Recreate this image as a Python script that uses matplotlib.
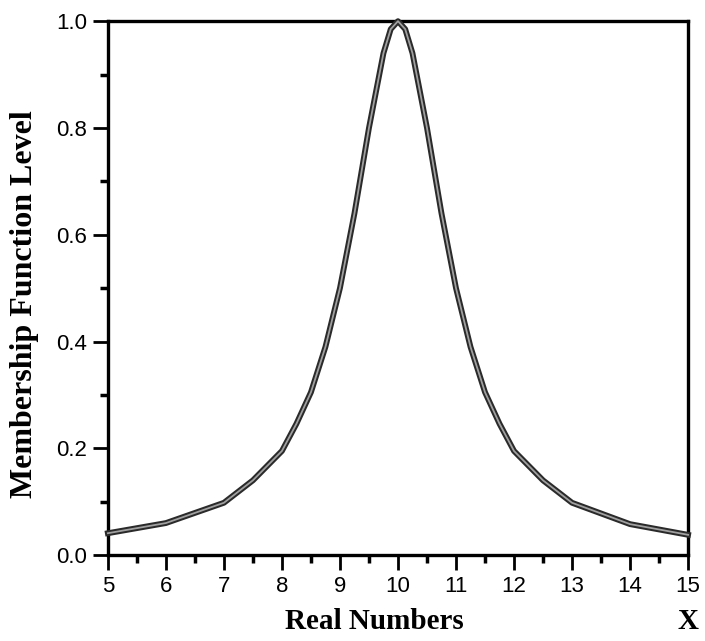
import matplotlib
matplotlib.use("Agg")
import matplotlib.pyplot as plt
from matplotlib.ticker import MultipleLocator

# valores
x_vals = [5, 6, 7, 7.5, 8, 8.25, 8.5, 8.75, 9, 9.25, 9.5, 9.75, 9.875, 10,
          10.125, 10.25, 10.5, 10.75, 11, 11.25, 11.5, 11.75, 12, 12.5, 13, 14, 15]
mu_vals = [0.041, 0.060, 0.098, 0.140, 0.195, 0.246, 0.305, 0.390, 0.500,
           0.640, 0.800, 0.940, 0.985, 1.000, 0.985, 0.940, 0.800, 0.640,
           0.500, 0.390, 0.305, 0.246, 0.195, 0.140, 0.098, 0.058, 0.038]
x_ticks = [5, 6, 7, 8, 9, 10, 11, 12, 13, 14, 15]
y_ticks = [0.0, 0.2, 0.4, 0.6, 0.8, 1.0]

fig = plt.figure(figsize=(7.05, 6.41), dpi=100)
ax = fig.add_axes([0.153, 0.134, 0.823, 0.833])

# línea "hueca": trazo oscuro grueso con trazo claro encima
ax.plot(x_vals, mu_vals, color='#2a2a2a', linewidth=4.2, solid_joinstyle='round', clip_on=False, zorder=3)
ax.plot(x_vals, mu_vals, color='#a0a0a0', linewidth=1.3, solid_joinstyle='round', clip_on=False, zorder=4)

ax.set_xlim(5, 15)
ax.set_ylim(0, 1.0)
ax.set_xticks(x_ticks)
ax.set_yticks(y_ticks)
ax.set_yticklabels([f"{v:.1f}" for v in y_ticks])
ax.xaxis.set_minor_locator(MultipleLocator(0.5))
ax.yaxis.set_minor_locator(MultipleLocator(0.1))

for lab in ax.get_xticklabels() + ax.get_yticklabels():
    lab.set_fontfamily('Liberation Sans')
    lab.set_fontsize(16)

ax.tick_params(which='major', direction='out', length=11, width=2, color='black', pad=4)
ax.tick_params(which='minor', direction='out', length=6, width=2.5, color='black')
for sp in ax.spines.values():
    sp.set_linewidth(2.4)
    sp.set_color('black')

# etiquetas de ejes en serif negrita
ax.text(0.46, -0.125, 'Real Numbers', transform=ax.transAxes, ha='center', va='center',
        family='Liberation Serif', fontsize=21, fontweight='bold')
ax.text(1.0, -0.125, 'X', transform=ax.transAxes, ha='center', va='center',
        family='Liberation Serif', fontsize=21, fontweight='bold')
ax.text(-0.143, 0.47, 'Membership Function Level', transform=ax.transAxes, rotation=90,
        ha='center', va='center', family='Liberation Serif', fontsize=23, fontweight='bold')

plt.savefig('out.png', dpi=100)
plt.close()
